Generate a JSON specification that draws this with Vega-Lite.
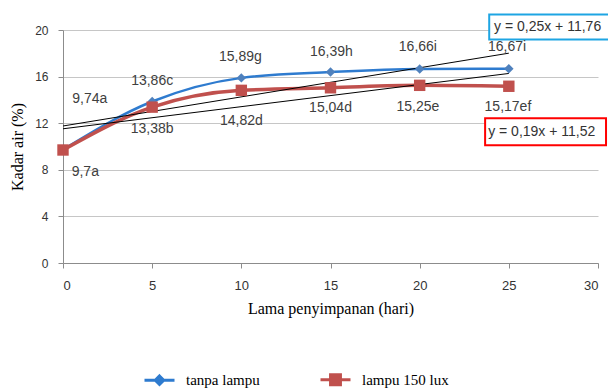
{
  "$schema": "https://vega.github.io/schema/vega-lite/v6.json",
  "width": 535,
  "height": 233,
  "autosize": {"type": "none"},
  "padding": {"left": 63, "top": 30, "right": 10, "bottom": 126},
  "background": "white",
  "config": {
    "view": {"stroke": null},
    "axis": {
      "domainColor": "#8c8c8c",
      "tickColor": "#8c8c8c",
      "tickSize": 5,
      "gridColor": "#c6c6c6",
      "labelFont": "Liberation Sans",
      "labelFontSize": 13,
      "labelColor": "#333333",
      "titleFont": "Liberation Serif",
      "titleFontSize": 16,
      "titleFontWeight": "normal",
      "titleColor": "#000000"
    },
    "axisY": {"labelOverlap": false, "labelSeparation": 0, "labelBaseline": "middle"}
  },
  "datasets": {
    "series": [
      {"hari": 0, "kadar": 9.74, "seri": "tanpa lampu", "label": "9,74a", "lx": 1.5, "ly": 14.05},
      {"hari": 5, "kadar": 13.86, "seri": "tanpa lampu", "label": "13,86c", "lx": 5.0, "ly": 15.6},
      {"hari": 10, "kadar": 15.89, "seri": "tanpa lampu", "label": "15,89g", "lx": 9.95, "ly": 17.65},
      {"hari": 15, "kadar": 16.39, "seri": "tanpa lampu", "label": "16,39h", "lx": 15.05, "ly": 18.15},
      {"hari": 20, "kadar": 16.66, "seri": "tanpa lampu", "label": "16,66i", "lx": 19.9, "ly": 18.5},
      {"hari": 25, "kadar": 16.67, "seri": "tanpa lampu", "label": "16,67i", "lx": 24.9, "ly": 18.5},
      {"hari": 0, "kadar": 9.7, "seri": "lampu 150 lux", "label": "9,7a", "lx": 1.25, "ly": 7.8},
      {"hari": 5, "kadar": 13.38, "seri": "lampu 150 lux", "label": "13,38b", "lx": 5.0, "ly": 11.48},
      {"hari": 10, "kadar": 14.82, "seri": "lampu 150 lux", "label": "14,82d", "lx": 10.0, "ly": 12.17},
      {"hari": 15, "kadar": 15.04, "seri": "lampu 150 lux", "label": "15,04d", "lx": 15.0, "ly": 13.28},
      {"hari": 20, "kadar": 15.25, "seri": "lampu 150 lux", "label": "15,25e", "lx": 19.9, "ly": 13.37},
      {"hari": 25, "kadar": 15.17, "seri": "lampu 150 lux", "label": "15,17ef", "lx": 24.95, "ly": 13.37}
    ],
    "trend": [
      {"id": "tanpa lampu", "hari": 0, "kadar": 11.76},
      {"id": "tanpa lampu", "hari": 25, "kadar": 18.01},
      {"id": "lampu 150 lux", "hari": 0, "kadar": 11.52},
      {"id": "lampu 150 lux", "hari": 25, "kadar": 16.27}
    ]
  },
  "layer": [
    {
      "data": {"name": "series"},
      "transform": [{"filter": "datum.seri == 'tanpa lampu'"}],
      "mark": {"type": "line", "interpolate": "monotone", "strokeWidth": 2.5, "color": "#2E7BCF"},
      "encoding": {
        "x": {"field": "hari", "type": "quantitative", "scale": {"domain": [0, 30], "nice": false}, "axis": {"values": [0, 5, 10, 15, 20, 25, 30], "grid": false, "title": "Lama penyimpanan (hari)", "labelPadding": 11, "titlePadding": 8}},
        "y": {"field": "kadar", "type": "quantitative", "scale": {"domain": [0, 20], "nice": false}, "axis": {"values": [0, 2, 4, 6, 8, 10, 12, 14, 16, 18, 20], "grid": true, "title": "Kadar air (%)", "labelPadding": 10, "titlePadding": 9, "labelOverlap": false, "labelSeparation": 0, "labelFontSize": 12}}
      }
    },
    {
      "data": {"values": [{"x1": 23.9, "x2": 31.5, "y1": 21.34, "y2": 19.19}]},
      "mark": {"type": "rect", "fill": "white", "stroke": "#1EA5E3", "strokeWidth": 2},
      "encoding": {
        "x": {"field": "x1", "type": "quantitative"},
        "x2": {"field": "x2"},
        "y": {"field": "y1", "type": "quantitative"},
        "y2": {"field": "y2"}
      }
    },
    {
      "data": {"values": [{"x1": 23.67, "x2": 30.45, "y1": 12.42, "y2": 10.11}]},
      "mark": {"type": "rect", "fill": "white", "stroke": "#FF0000", "strokeWidth": 2},
      "encoding": {
        "x": {"field": "x1", "type": "quantitative"},
        "x2": {"field": "x2"},
        "y": {"field": "y1", "type": "quantitative"},
        "y2": {"field": "y2"}
      }
    },
    {
      "data": {"name": "series"},
      "transform": [{"filter": "datum.seri == 'lampu 150 lux'"}],
      "mark": {"type": "line", "interpolate": "monotone", "strokeWidth": 3.5, "color": "#C0504D"},
      "encoding": {
        "x": {"field": "hari", "type": "quantitative"},
        "y": {"field": "kadar", "type": "quantitative"}
      }
    },
    {
      "data": {"name": "trend"},
      "mark": {"type": "line", "color": "#000000", "strokeWidth": 1},
      "encoding": {
        "x": {"field": "hari", "type": "quantitative"},
        "y": {"field": "kadar", "type": "quantitative"},
        "detail": {"field": "id"}
      }
    },
    {
      "data": {"name": "series"},
      "transform": [{"filter": "datum.seri == 'tanpa lampu'"}],
      "mark": {"type": "point", "filled": true, "opacity": 1, "shape": "diamond", "size": 90, "color": "#4F81BD"},
      "encoding": {
        "x": {"field": "hari", "type": "quantitative"},
        "y": {"field": "kadar", "type": "quantitative"}
      }
    },
    {
      "data": {"name": "series"},
      "transform": [{"filter": "datum.seri == 'lampu 150 lux'"}],
      "mark": {"type": "point", "filled": true, "opacity": 1, "shape": "square", "size": 130, "color": "#C0504D"},
      "encoding": {
        "x": {"field": "hari", "type": "quantitative"},
        "y": {"field": "kadar", "type": "quantitative"}
      }
    },
    {
      "data": {"name": "series"},
      "transform": [{"filter": "datum.hari < 0"}],
      "mark": {"type": "point", "opacity": 1},
      "encoding": {
        "x": {"field": "hari", "type": "quantitative"},
        "y": {"field": "kadar", "type": "quantitative"},
        "fill": {"field": "seri", "type": "nominal", "scale": {"domain": ["tanpa lampu", "lampu 150 lux"], "range": ["#4F81BD", "#C0504D"]},
          "legend": {
            "title": null,
            "orient": "none",
            "legendX": 80,
            "legendY": 333,
            "direction": "horizontal",
            "symbolSize": 900,
            "symbolStrokeWidth": 3,
            "labelFont": "Liberation Serif",
            "labelFontSize": 15,
            "labelColor": "#000000",
            "labelOffset": 10,
            "columnPadding": 54,
            "padding": 0
          }},
        "stroke": {"field": "seri", "type": "nominal", "scale": {"domain": ["tanpa lampu", "lampu 150 lux"], "range": ["#2E7BCF", "#C0504D"]}},
        "shape": {"field": "seri", "type": "nominal", "scale": {"domain": ["tanpa lampu", "lampu 150 lux"], "range": ["M-1,0H1M0,-0.28L0.28,0L0,0.28L-0.28,0Z", "M-1,0H1M-0.33,-0.33H0.33V0.33H-0.33Z"]}}
      }
    },
    {
      "data": {"name": "series"},
      "mark": {"type": "text", "font": "Liberation Sans", "fontSize": 14, "color": "#404040", "align": "center", "baseline": "middle"},
      "encoding": {
        "x": {"field": "lx", "type": "quantitative"},
        "y": {"field": "ly", "type": "quantitative"},
        "text": {"field": "label"}
      }
    },
    {
      "data": {"values": [
        {"ex": 24.17, "ey": 20.3, "eq": "y = 0,25x + 11,76"},
        {"ex": 23.84, "ey": 11.23, "eq": "y = 0,19x + 11,52"}
      ]},
      "mark": {"type": "text", "font": "Liberation Sans", "fontSize": 14, "color": "#333333", "align": "left", "baseline": "middle"},
      "encoding": {
        "x": {"field": "ex", "type": "quantitative"},
        "y": {"field": "ey", "type": "quantitative"},
        "text": {"field": "eq"}
      }
    }
  ]
}
